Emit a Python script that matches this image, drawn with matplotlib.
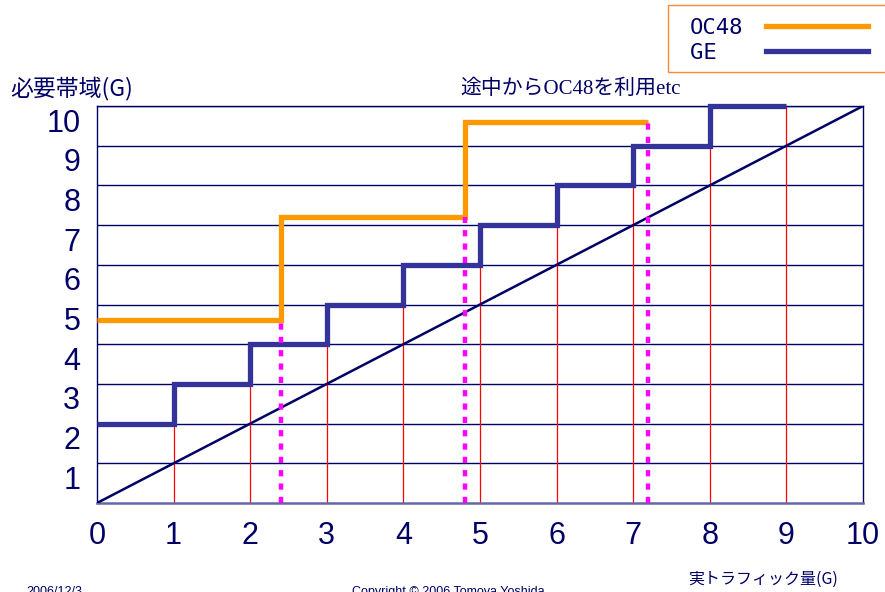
import matplotlib.pyplot as plt
import matplotlib.transforms as mtransforms
from matplotlib.patches import Rectangle

# Data
ge_edges = [0, 1, 2, 3, 4, 5, 6, 7, 8, 9]
ge_levels = [2, 3, 4, 5, 6, 7, 8, 9, 10]
oc48_edges = [0, 2.4, 4.8, 7.2]
oc48_levels = [4.6, 7.2, 9.6]
diag_x = [0, 10]
diag_y = [0, 10]
ticks = [0, 1, 2, 3, 4, 5, 6, 7, 8, 9, 10]

NAVY = '#000066'
BLUE = '#333399'
ORANGE = '#FF9900'

fig = plt.figure(figsize=(8.85, 5.92), dpi=100)
ax = fig.add_axes([0.1096, 0.1503, 0.8655, 0.6706])
ax.set_xlim(0, 10)
ax.set_ylim(0, 10)

# horizontal grid
ax.set_yticks(ticks[1:])
ax.set_xticks(ticks)
ax.yaxis.grid(True, color=NAVY, lw=1.0, zorder=1)
ax.set_axisbelow(True)

# red guides up to the GE step at each integer
ax.vlines(ge_edges[1:], 0, ge_levels, colors='#FF0000', lw=0.9, zorder=2)

# y = x reference line
ax.plot(diag_x, diag_y, color=NAVY, lw=1.8, zorder=3)

ax.stairs(oc48_levels, oc48_edges, baseline=None, color=ORANGE, lw=3.8,
          zorder=4, clip_on=False, label='OC48')
ax.stairs(ge_levels, ge_edges, baseline=None, color=BLUE, lw=3.8,
          zorder=4, clip_on=False, label='GE  ')

# magenta dotted markers where OC48 gets added
ax.vlines(oc48_edges[1:], 0, oc48_levels, colors='#FF00FF', lw=3.2,
          linestyles=(0, (1.4, 1.6)), zorder=5)

for s in ['left', 'right', 'top']:
    ax.spines[s].set_color(NAVY)
    ax.spines[s].set_linewidth(1.0)
ax.spines['bottom'].set_color('#6666AA')
ax.spines['bottom'].set_linewidth(1.8)

tick_font = dict(family='Liberation Sans', size=22)
ax.tick_params(length=0, colors=NAVY)
ax.tick_params(axis='x', pad=13)
ax.tick_params(axis='y', pad=12)
ax.set_xticklabels([str(t) for t in ticks], fontdict=tick_font)
ax.set_yticklabels([str(t) for t in ticks[1:]], fontdict=tick_font)
off = mtransforms.ScaledTranslation(0, -0.14, fig.dpi_scale_trans)
for lbl in ax.get_yticklabels():
    lbl.set_transform(lbl.get_transform() + off)

cjk = ['Noto Sans CJK JP', 'DejaVu Sans']
fig.text(10 / 885, 1 - 88 / 592, '必要帯域(G)', family=cjk, size=16.5,
         color=NAVY, va='center', ha='left')
fig.text(688 / 885, 1 - 579 / 592, '実トラフィック量(G)', family=cjk, size=11.5,
         color=NAVY, va='center', ha='left')
fig.text(460 / 885, 1 - 89 / 592, '途中からOC48を利用etc',
         family=['Liberation Serif', 'Noto Sans CJK JP'], size=15,
         color=NAVY, va='center', ha='left')

# footer, cut off by the slide edge as in the original
fig.text(26 / 885, 1 - 586 / 592, '2006/12/3', family='Liberation Sans',
         size=9, color=NAVY, va='top', ha='left')
fig.text(352 / 885, 1 - 586 / 592, 'Copyright © 2006 Tomoya Yoshida',
         family='Liberation Sans', size=9, color=NAVY, va='top', ha='left')

# legend box
fig.patches.append(Rectangle((668 / 885, 1 - 72 / 592), 0.3, 67 / 592,
                             transform=fig.transFigure, fill=False,
                             edgecolor='#FF8833', lw=1.0))
fig.legend(loc='upper left', bbox_to_anchor=(668 / 885, 1 + 4 / 592),
           markerfirst=False, frameon=False, handlelength=4.6,
           handletextpad=1.0, labelspacing=0.2, borderpad=0.5,
           prop=dict(family='DejaVu Sans Mono', size=16), labelcolor=NAVY)

fig.savefig('out.png', dpi=100)
